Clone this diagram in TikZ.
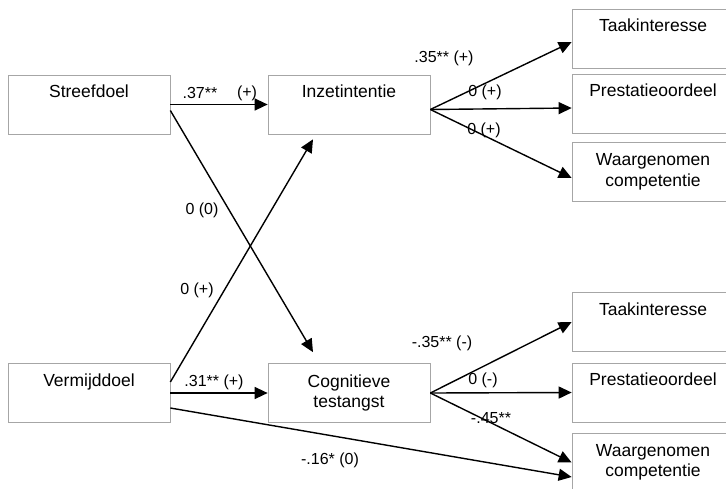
\documentclass[tikz,border=0pt]{standalone}
\usepackage{fontspec}
\setmainfont{Liberation Sans}
\usetikzlibrary{arrows.meta,calc}

\begin{document}
\begin{tikzpicture}[x=1pt,y=-1pt,
        box/.style={draw=gray!70, line width=0.7pt, minimum width=162pt, minimum height=59pt,
            inner sep=0pt, align=center, font=\fontsize{17.5}{20.5}\selectfont},
        coef/.style={inner sep=1pt, font=\fontsize{16}{18}\selectfont},
        effect/.style={line width=1.4pt, -{Triangle[length=13pt,width=12pt]}}]
        \useasboundingbox (0,0) rectangle (726,488);

        % predictors and mediators
        \node[box] (streef) at (89, 104.5) {Streefdoel\\\strut};
        \node[box] (inzet) at (349, 104.5) {Inzetintentie\\\strut};
        \node[box] (vermijd) at (89, 393) {Vermijddoel\\\strut};
        \node[box] (angst) at (349, 393) {Cognitieve\\testangst};

        % outcomes
        \node[box] (taakA) at (653, 38.5) {Taakinteresse\\\strut};
        \node[box] (prestA) at (653, 103.5) {Prestatieoordeel\\\strut};
        \node[box] (waarA) at (653, 172) {Waargenomen\\competentie};
        \node[box] (taakB) at (653, 322) {Taakinteresse\\\strut};
        \node[box] (prestB) at (653, 392.5) {Prestatieoordeel\\\strut};
        \node[box] (waarB) at (653, 462.5) {Waargenomen\\competentie};

        \draw[effect] (streef.east) -- (inzet.west);
        \draw[effect] ($(streef.east)+(0,6)$) -- ($(angst.north)+(-36,-11)$);
        \draw[effect] ($(vermijd.east)+(0,-11)$) -- ($(inzet.south)+(-36,5)$);
        \draw[effect] (vermijd.east) -- (angst.west);
        \draw[effect] ($(vermijd.east)+(0,15)$) -- ($(waarB.west)+(0,14.5)$);

        \draw[effect] ($(inzet.east)+(0,5)$) -- ($(taakA.west)+(0,3.5)$);
        \draw[effect] ($(inzet.east)+(0,5)$) -- ($(prestA.west)+(0,4.5)$);
        \draw[effect] ($(inzet.east)+(0,5)$) -- ($(waarA.west)+(0,6)$);
        \draw[effect] (angst.east) -- (taakB.west);
        \draw[effect] (angst.east) -- (prestB.west);
        \draw[effect] (angst.east) -- (waarB.west);

        \node[coef] (c1) at (200, 93) {.37**};
        \node[coef] (c2) at (247, 93) {(+)};
        \node[coef] (c3) at (444, 58) {.35** (+)};
        \node[coef] (c4) at (485, 92) {0 (+)};
        \node[coef] (c5) at (484, 130) {0 (+)};
        \node[coef] (c6) at (202, 210) {0 (0)};
        \node[coef] (c7) at (197, 290) {0 (+)};
        \node[coef] (c8) at (214, 382) {.31** (+)};
        \node[coef] (c9) at (442, 343) {-.35** (-)};
        \node[coef] (c10) at (483, 380) {0 (-)};
        \node[coef] (c11) at (491, 418) {-.45**};
        \node[coef] (c12) at (330, 460) {-.16* (0)};

    \end{tikzpicture}
\end{document}
